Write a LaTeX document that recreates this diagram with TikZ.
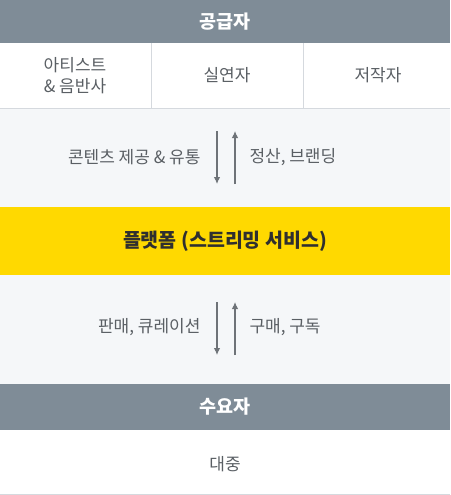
\documentclass[tikz,border=0pt]{standalone}
\usepackage{fontspec}
\setmainfont{Noto Sans CJK KR}
\usetikzlibrary{arrows.meta}
\definecolor{hdr}{HTML}{7F8C97}
\definecolor{band}{HTML}{F5F7F9}
\definecolor{yel}{HTML}{FFD900}
\definecolor{txt}{HTML}{5A5F64}
\definecolor{arr}{HTML}{6E7378}
\definecolor{divl}{HTML}{D5D9DE}
\definecolor{dark}{HTML}{2F2F2F}
\tikzset{
  hdrtext/.style={text=white,font=\fontsize{18.5}{22}\selectfont\bfseries},
  bodytext/.style={text=txt,font=\fontsize{17}{21}\selectfont,align=center},
  flow/.style={draw=arr,line width=1.1pt,-{Latex[length=7pt,width=6.5pt]}},
}
\begin{document}
\begin{tikzpicture}[x=1pt,y=-1pt]
\useasboundingbox (0,0) rectangle (450,495);
% backgrounds
\fill[hdr] (0,0) rectangle (450,43);
\fill[white] (0,43) rectangle (450,108);
\fill[band] (0,108) rectangle (450,207);
\fill[yel] (0,207) rectangle (450,275);
\fill[band] (0,275) rectangle (450,384);
\fill[hdr] (0,384) rectangle (450,430);
\fill[white] (0,430) rectangle (450,495);
\draw[divl,line width=0.8pt] (0,108) -- (450,108);
\draw[divl,line width=0.8pt] (151,43) -- (151,108);
\draw[divl,line width=0.8pt] (303,43) -- (303,108);
\draw[divl,line width=0.8pt] (0,494) -- (450,494);
% texts
\node[hdrtext] (sup) at (225,21.5) {공급자};
\node[bodytext] (artist) at (75,75.5) {아티스트\\\& 음반사};
\node[bodytext] (perf) at (227,75.5) {실연자};
\node[bodytext] (auth) at (378,75.5) {저작자};
\node[bodytext,anchor=east] (provide) at (204,157) {콘텐츠 제공 \& 유통};
\node[bodytext,anchor=west] (settle) at (246,157) {정산, 브랜딩};
\node[text=dark,font=\fontsize{19.5}{23}\selectfont\bfseries] (plat) at (225,241) {플랫폼 (스트리밍 서비스)};
\node[bodytext,anchor=east] (sell) at (204,327) {판매, 큐레이션};
\node[bodytext,anchor=west] (buy) at (246,327) {구매, 구독};
\node[hdrtext] (dem) at (225,407) {수요자};
\node[bodytext] (pub) at (225,464) {대중};
% arrows
\coordinate (a1t) at (217,131); \coordinate (a1b) at (217,184);
\coordinate (a2t) at (235,131); \coordinate (a2b) at (235,184);
\draw[flow] (a1t) -- (a1b);
\draw[flow] (a2b) -- (a2t);
\coordinate (b1t) at (217,302); \coordinate (b1b) at (217,355);
\coordinate (b2t) at (235,302); \coordinate (b2b) at (235,355);
\draw[flow] (b1t) -- (b1b);
\draw[flow] (b2b) -- (b2t);
\end{tikzpicture}
\end{document}
